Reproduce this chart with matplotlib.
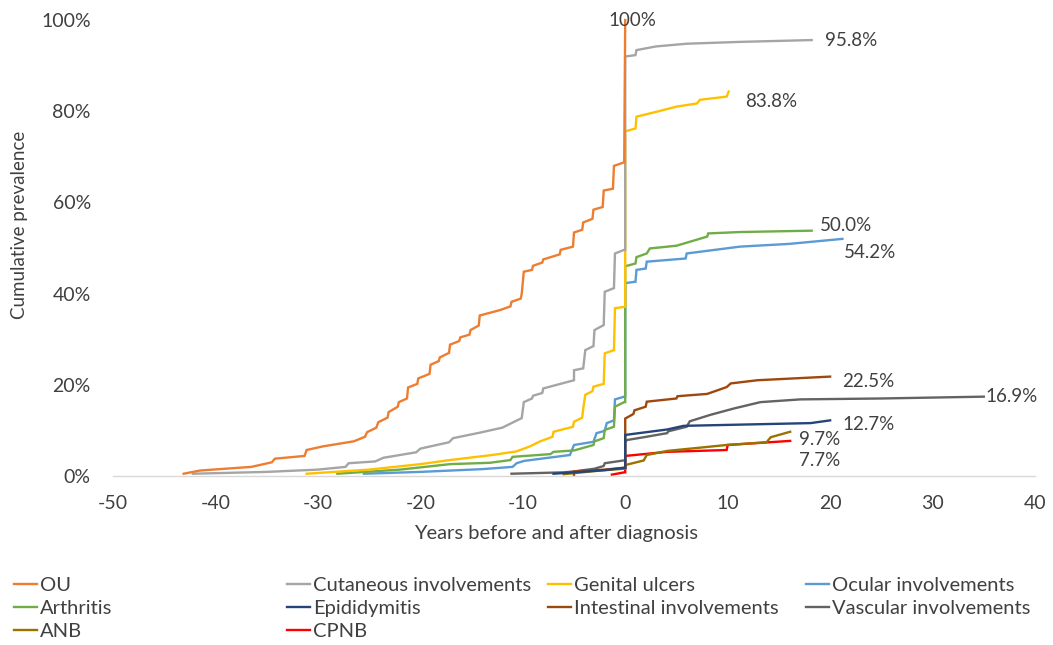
import matplotlib
matplotlib.use("Agg")
import matplotlib.pyplot as plt
from matplotlib.ticker import FuncFormatter

plt.rcParams['font.family'] = ['Lato', 'DejaVu Sans']
plt.rcParams['axes.unicode_minus'] = False

# ---------------- data (years relative to diagnosis, cumulative %) ----------------
names = ["OU", "Cutaneous involvements", "Genital ulcers", "Ocular involvements",
         "Arthritis", "Epididymitis", "Intestinal involvements", "Vascular involvements",
         "ANB", "CPNB"]
colors = ["#ED7D31", "#A5A5A5", "#FFC000", "#5B9BD5", "#70AD47",
          "#264478", "#9E480E", "#636363", "#997300", "#FF0000"]

ou_x = [-43.1, -41.5, -36.5, -34.5, -34.2, -31.3, -31.1, -29.5, -26.5, -25.4, -25.2, -24.3, -24.1,
        -23.2, -23.1, -22.2, -22.1, -21.3, -21.2, -20.3, -20.2, -19.1, -19.0, -18.2, -18.1, -17.2,
        -17.1, -16.2, -16.1, -15.2, -15.1, -14.3, -14.2, -12.2, -11.2, -11.1, -10.2, -10.1, -9.9,
        -9.1, -9.0, -8.1, -8.0, -6.4, -6.3, -5.1, -5.0, -4.2, -4.1, -3.2, -3.1, -2.2, -2.1, -1.2,
        -1.1, -0.1, 0.0]
ou_y = [0.5, 1.2, 2.0, 3.0, 3.8, 4.4, 5.7, 6.5, 7.6, 8.6, 9.6, 10.6, 11.8,
        12.8, 14.0, 15.2, 16.2, 17.0, 19.4, 20.2, 21.4, 22.4, 24.4, 25.2, 26.0, 27.0,
        28.8, 29.6, 30.4, 31.0, 32.0, 33.0, 35.2, 36.4, 37.2, 38.2, 38.9, 40.0, 44.8,
        45.2, 46.1, 46.8, 47.5, 48.6, 49.6, 50.3, 53.4, 54.0, 55.6, 56.4, 58.4, 59.0, 62.6, 63.0,
        68.0, 68.8, 100.0]

cut_x = [-42.2, -35.0, -30.0, -27.3, -27.0, -24.4, -23.6, -20.4, -20.0, -17.2, -16.8, -14.2, -12.0,
         -11.1, -10.1, -9.9, -9.1, -9.0, -8.1, -8.0, -6.0, -5.0, -5.0, -4.1, -3.9, -3.1, -3.0,
         -2.1, -2.0, -1.1, -1.0, -0.1, 0.0, 0.0, 1.0, 1.1, 3.0, 6.0, 11.2, 18.2]
cut_y = [0.5, 0.9, 1.4, 2.0, 2.8, 3.2, 4.0, 5.2, 6.0, 7.4, 8.3, 9.5, 10.6,
         11.6, 12.7, 16.2, 17.0, 17.6, 18.2, 19.2, 20.4, 21.0, 23.2, 23.6, 27.6, 28.5, 32.0,
         33.1, 40.4, 41.2, 48.8, 49.6, 49.6, 92.0, 92.3, 93.4, 94.2, 94.8, 95.2, 95.6]

gen_x = [-31.1, -25.0, -20.0, -17.1, -13.0, -10.6, -9.3, -8.3, -7.1, -7.0, -5.1, -5.0, -4.2, -4.1,
         -3.9, -3.2, -3.1, -2.1, -2.0, -1.1, -1.0, -0.1, 0.0, 0.0, 1.0, 1.1, 3.1, 5.0, 7.0, 7.3,
         9.9, 10.1]
gen_y = [0.5, 1.4, 2.6, 3.5, 4.6, 5.4, 6.5, 7.6, 8.6, 9.7, 10.8, 11.9, 12.8, 14.8,
         17.8, 18.6, 19.6, 20.2, 26.9, 27.6, 36.8, 37.1, 37.1, 75.6, 76.2, 78.8, 79.9, 81.0, 81.7, 82.5,
         83.2, 84.3]

ocu_x = [-25.5, -20.0, -14.0, -11.0, -10.6, -9.9, -7.5, -5.4, -5.0, -3.1, -2.8, -2.0, -1.8, -1.1,
         -1.0, -0.1, 0.0, 0.0, 1.0, 1.1, 2.0, 2.1, 5.9, 6.0, 11.2, 16.0, 21.2]
ocu_y = [0.5, 0.9, 1.5, 2.0, 2.8, 3.3, 4.0, 4.6, 6.8, 7.5, 9.4, 9.9, 11.6, 12.2,
         16.8, 17.4, 17.4, 42.3, 42.6, 45.2, 45.5, 47.0, 47.7, 48.8, 50.3, 50.9, 52.0]

art_x = [-28.1, -22.0, -17.1, -13.2, -11.2, -11.0, -7.3, -7.0, -5.0, -3.1, -3.0, -2.1, -2.0, -1.1,
         -1.0, -0.1, 0.0, 0.0, 1.0, 1.1, 2.1, 2.4, 5.0, 8.0, 8.1, 11.2, 18.2]
art_y = [0.5, 1.4, 2.6, 2.9, 3.5, 4.2, 4.8, 5.3, 5.6, 6.8, 7.6, 8.3, 10.1, 10.8,
         15.2, 16.2, 16.2, 46.0, 46.6, 48.0, 48.8, 49.9, 50.5, 52.5, 53.2, 53.5, 53.8]

epi_x = [-7.0, -5.0, -2.0, -0.1, 0.0, 0.0, 1.0, 4.1, 5.7, 18.1, 20.0]
epi_y = [0.5, 0.8, 1.3, 1.8, 1.8, 9.0, 9.3, 10.2, 11.0, 11.6, 12.2]

int_x = [-5.0, -5.0, -2.0, -0.1, 0.0, 0.0, 0.8, 0.9, 2.0, 2.1, 5.0, 5.1, 8.0, 9.9, 10.3, 12.9, 20.0]
int_y = [0.2, 1.0, 1.4, 1.8, 1.8, 12.6, 13.6, 14.4, 15.2, 16.3, 17.0, 17.5, 18.0, 19.5, 20.3, 21.0, 21.8]

vas_x = [-11.1, -6.0, -5.0, -3.0, -2.1, -2.0, -0.2, 0.0, 0.0, 0.2, 1.8, 4.1, 4.2, 6.0, 6.3, 8.3,
         10.6, 13.2, 17.1, 25.0, 35.0]
vas_y = [0.5, 0.8, 1.0, 1.6, 2.2, 2.8, 3.4, 3.4, 7.6, 7.9, 8.5, 9.4, 9.8, 10.8, 12.0, 13.4,
         14.8, 16.2, 16.8, 17.0, 17.4]

anb_x = [-6.0, -2.4, -0.1, 0.0, 0.0, 1.8, 2.1, 4.1, 9.9, 13.8, 14.2, 16.1]
anb_y = [0.4, 1.2, 1.6, 1.6, 2.4, 3.4, 4.6, 5.5, 6.8, 7.4, 8.5, 9.7]

cpnb_x = [-1.3, -0.1, 0.0, 0.0, 4.1, 9.9, 10.0, 16.1]
cpnb_y = [0.3, 0.8, 0.8, 4.4, 5.3, 5.7, 6.8, 7.7]

series_x = [ou_x, cut_x, gen_x, ocu_x, art_x, epi_x, int_x, vas_x, anb_x, cpnb_x]
series_y = [ou_y, cut_y, gen_y, ocu_y, art_y, epi_y, int_y, vas_y, anb_y, cpnb_y]

end_labels = ["100%", "95.8%", "83.8%", "54.2%", "50.0%", "12.7%", "22.5%", "16.9%", "9.7%", "7.7%"]
label_pos = [(0.7, 100.0), (19.5, 95.6), (11.7, 82.1), (21.3, 49.0), (19.0, 55.0),
             (21.2, 11.2), (21.2, 20.7), (35.2, 17.5), (17.0, 8.0), (17.0, 3.3)]

x_ticks = [-50, -40, -30, -20, -10, 0, 10, 20, 30, 40]
y_ticks = [0, 20, 40, 60, 80, 100]

# ---------------- figure ----------------
W, H = 1053, 645
fig = plt.figure(figsize=(W / 100, H / 100), dpi=100)
ax = fig.add_axes([113 / W, 1 - 476 / H, (1035 - 113) / W, (476 - 20) / H])

order = [9, 8, 7, 6, 5, 3, 4, 2, 1, 0]
lines = {}
for i in order:
    ln, = ax.plot(series_x[i], series_y[i], color=colors[i], lw=1.7, label=names[i],
                  solid_joinstyle='miter', clip_on=False)
    lines[i] = ln

txt_color = "#404040"
for i, lab in enumerate(end_labels):
    x, y = label_pos[i]
    ha = 'center' if i == 0 else 'left'
    ax.text(x, y, lab, ha=ha, va='center', fontsize=13.5, color=txt_color)

ax.set_xlim(-50, 40)
ax.set_ylim(0, 100)
ax.set_xticks(x_ticks)
ax.set_yticks(y_ticks)
ax.yaxis.set_major_formatter(FuncFormatter(lambda v, p: f"{v:.0f}%"))
ax.tick_params(length=0, labelsize=14, labelcolor=txt_color)
ax.tick_params(axis='y', pad=16)
ax.tick_params(axis='x', pad=14)
for s in ['top', 'right', 'left']:
    ax.spines[s].set_visible(False)
ax.spines['bottom'].set_color('#D9D9D9')
ax.spines['bottom'].set_linewidth(1.0)

ax.set_xlabel("Years before and after diagnosis", fontsize=14.5, color=txt_color)
ax.xaxis.set_label_coords((556 - 113) / (1035 - 113), -(533 - 476) / (476 - 20))
ax.xaxis.label.set_va('center')
ax.set_ylabel("Cumulative prevalence", fontsize=13.5, color=txt_color)
ax.yaxis.set_label_coords(-(113 - 20) / (1035 - 113), (476 - 225) / (476 - 20))
ax.yaxis.label.set_va('center')

# legend in 4 columns (row-major order of the series)
cols = [[0, 4, 8], [1, 5, 9], [2, 6], [3, 7]]
col_x = [14, 287, 548, 806]
for cx, idxs in zip(col_x, cols):
    leg = fig.legend([lines[i] for i in idxs], [names[i] for i in idxs],
                     loc='upper left', bbox_to_anchor=(cx / W, 1 - 577 / H),
                     frameon=False, fontsize=14.5, handlelength=1.15, handletextpad=0.15,
                     labelspacing=0.3, borderpad=0, borderaxespad=0)
    for t in leg.get_texts():
        t.set_color(txt_color)

fig.savefig("out.png", dpi=100)
